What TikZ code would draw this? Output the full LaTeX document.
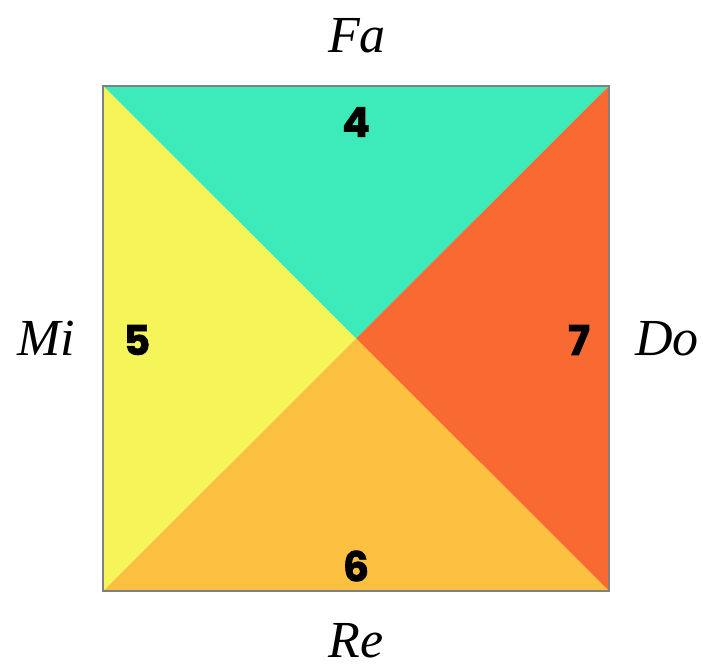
\documentclass[tikz,border=0pt]{standalone}
\usepackage{fontspec}
\setmainfont{Liberation Serif}
\newfontfamily\numfont{Poppins}[BoldFeatures={FakeBold=1.6}]
\definecolor{cteal}{HTML}{3DEBBA}
\definecolor{cyellow}{HTML}{F5F55A}
\definecolor{corange}{HTML}{F96A32}
\definecolor{camber}{HTML}{FBC040}
\definecolor{cborder}{HTML}{808080}
\begin{document}
\begin{tikzpicture}[x=1pt,y=-1pt,
  num/.style={font=\numfont\bfseries\fontsize{41}{41}\selectfont, inner sep=0pt},
  lab/.style={font=\itshape\fontsize{52}{52}\selectfont, inner sep=0pt}]
\useasboundingbox (0,0) rectangle (703,671);
\coordinate (tl) at (103,86);
\coordinate (tr) at (609,86);
\coordinate (br) at (609,591);
\coordinate (bl) at (103,591);
\coordinate (c) at (356,338.5);
\fill[cteal] (tl) -- (tr) -- (c) -- cycle;
\fill[corange] (tr) -- (br) -- (c) -- cycle;
\fill[camber] (br) -- (bl) -- (c) -- cycle;
\fill[cyellow] (bl) -- (tl) -- (c) -- cycle;
\draw[cborder, line width=1.8pt] (tl) rectangle (br);
\node[num] (n4) at (356,122) {4};
\node[num] (n5) at (137,340) {5};
\node[num] (n7) at (579,340) {7};
\node[num] (n6) at (356,566) {6};
\node[lab, anchor=base] (fa) at (357,53) {Fa};
\node[lab, anchor=base] (mi) at (46,355) {Mi};
\node[lab, anchor=base] (do) at (667,355) {Do};
\node[lab, anchor=base] (re) at (356,657) {Re};
\end{tikzpicture}
\end{document}
